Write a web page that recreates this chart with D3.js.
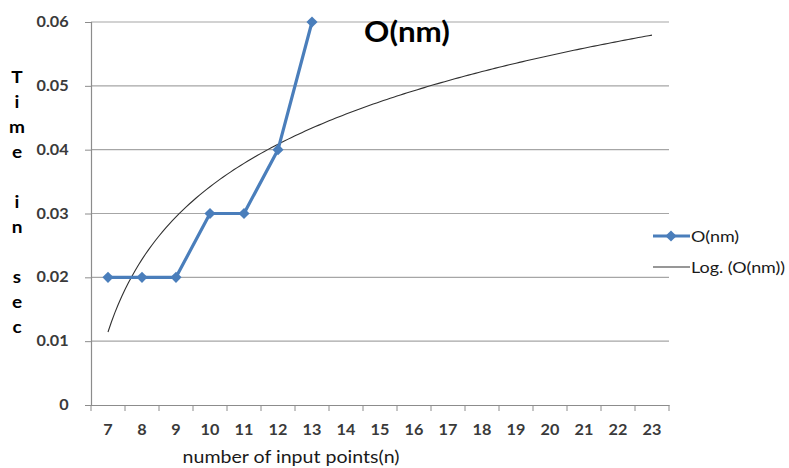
<!DOCTYPE html>
<html><head><meta charset="utf-8">
<script src="https://cdn.jsdelivr.net/npm/d3@7"></script>
<style>body{margin:0;background:#fff}svg{display:block}</style>
</head><body>
<svg id="c" width="789" height="468"></svg>
<script>
const categories = [7,8,9,10,11,12,13,14,15,16,17,18,19,20,21,22,23];
const seriesX = [7,8,9,10,11,12,13];
const seriesY = [0.02,0.02,0.02,0.03,0.03,0.04,0.06];
const yTicks = [0,0.01,0.02,0.03,0.04,0.05,0.06];
const yTitleChars = ["T","i","m","e","","i","n","","s","e","c"];
const title = "O(nm)";
const xTitle = "number of input points(n)";
const legendLabels = ["O(nm)","Log. (O(nm))"];

(function(){
const svg = d3.select("#c");
const font = "Lato, 'Open Sans', sans-serif";
const SX = 1.12;
const pL = 91, pR = 669, pT = 22, pB = 405;

const x = d3.scaleBand().domain(categories).range([pL, pR]);
const y = d3.scaleLinear().domain([0, 0.06]).range([pB, pT]);
const cx = v => x(v) + x.bandwidth()/2;

// gridlines
svg.append("g").selectAll("line").data(yTicks.filter(d=>d>0)).join("line")
  .attr("x1", pL).attr("x2", pR)
  .attr("y1", d=>y(d)).attr("y2", d=>y(d))
  .attr("stroke", "#a6a6a6").attr("stroke-width", 1.2);

// y axis
const yAxis = svg.append("g").attr("transform", `translate(${pL},0)`)
  .call(d3.axisLeft(y).tickValues(yTicks).tickSize(6).tickPadding(12).tickFormat(d=> d===0?"0":d3.format(".2f")(d)));
yAxis.select(".domain").attr("stroke","#8c8c8c").attr("stroke-width",1.2);
yAxis.selectAll(".tick line").attr("stroke","#8c8c8c");
yAxis.selectAll("text").attr("font-family",font).attr("font-size",14.5).attr("font-weight",700).attr("fill","#3a3a3a")
  .attr("transform", function(){ const xx = +this.getAttribute("x"); return `translate(${xx*(SX-1)},0) scale(${SX},1)`; });

// x axis
const xAxis = svg.append("g").attr("transform", `translate(0,${pB})`)
  .call(d3.axisBottom(x).tickSize(0).tickPadding(20));
xAxis.select(".domain").attr("stroke","#8c8c8c").attr("stroke-width",1.2);
xAxis.selectAll("text").attr("font-family",font).attr("font-size",14.5).attr("font-weight",700).attr("fill","#3a3a3a")
  .attr("transform", `scale(${SX},1)`);
// tick marks between categories
const bounds = categories.map(c=>x(c)).concat([pR]);
svg.append("g").selectAll("line").data(bounds).join("line")
  .attr("x1", d=>d).attr("x2", d=>d).attr("y1", pB).attr("y2", pB+6)
  .attr("stroke","#8c8c8c").attr("stroke-width",1);

// logarithmic trendline fitted from the series (least squares on ln(index))
const lx = seriesX.map((v,i)=>Math.log(i+1));
const mx = d3.mean(lx), my = d3.mean(seriesY);
const a = d3.sum(lx.map((l,i)=>(l-mx)*(seriesY[i]-my))) / d3.sum(lx.map(l=>(l-mx)*(l-mx)));
const b = my - a*mx;
const idxScale = d3.scaleLinear().domain([1, categories.length]).range([cx(categories[0]), cx(categories[categories.length-1])]);
const trendPts = d3.range(1, categories.length + 0.001, 0.1).map(t=>[idxScale(t), y(a*Math.log(t)+b)]);
svg.append("path").attr("d", d3.line()(trendPts))
  .attr("fill","none").attr("stroke","#303030").attr("stroke-width",1.1);

// series
const blue = "#4a7ebb";
svg.append("path").datum(seriesX.map((v,i)=>[cx(v), y(seriesY[i])]))
  .attr("d", d3.line()).attr("fill","none").attr("stroke",blue).attr("stroke-width",3.2).attr("stroke-linejoin","round");
const diamond = d3.symbol().type(d3.symbolSquare).size(62);
svg.append("g").selectAll("path").data(seriesX).join("path")
  .attr("d", diamond).attr("transform",(d,i)=>`translate(${cx(d)},${y(seriesY[i])}) rotate(45)`)
  .attr("fill",blue);

function stretchedText(px, py, txt){
  return svg.append("text").attr("transform",`translate(${px},${py}) scale(${SX},1)`).attr("font-family",font).text(txt);
}

// title
stretchedText(407, 42, title).attr("text-anchor","middle")
  .attr("font-size",28).attr("font-weight",700).attr("fill","#000");

// y title
svg.append("g").selectAll("text").data(yTitleChars).join("text")
  .attr("transform",(d,i)=>`translate(17,${83+i*25}) scale(${SX},1)`).attr("text-anchor","middle")
  .attr("font-family",font).attr("font-size",17).attr("font-weight",700).attr("fill","#000").text(d=>d);

// x title
stretchedText(291, 463, xTitle).attr("text-anchor","middle")
  .attr("font-size",17.5).attr("fill","#1a1a1a");

// legend
const lg = svg.append("g");
lg.append("line").attr("x1",653).attr("x2",690).attr("y1",236).attr("y2",236).attr("stroke",blue).attr("stroke-width",3);
lg.append("path").attr("d",diamond).attr("transform","translate(671,236) rotate(45)").attr("fill",blue);
lg.append("line").attr("x1",653).attr("x2",690).attr("y1",267).attr("y2",267).attr("stroke","#303030").attr("stroke-width",1.2);
legendLabels.forEach((t,i)=>{
  stretchedText(691, 242+i*31, t).attr("font-size",16).attr("fill","#1a1a1a");
});
})();
</script>
</body></html>
